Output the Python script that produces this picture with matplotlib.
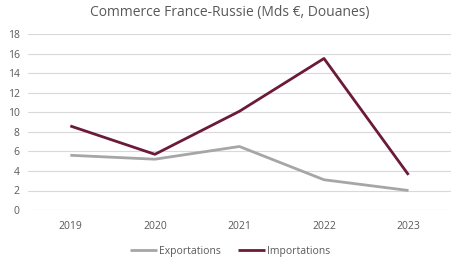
import matplotlib.pyplot as plt

years = ["2019", "2020", "2021", "2022", "2023"]
exportations = [5.6, 5.2, 6.5, 3.1, 2.0]
importations = [8.6, 5.7, 10.1, 15.5, 3.6]
yticks = [0, 2, 4, 6, 8, 10, 12, 14, 16, 18]

plt.rcParams['font.family'] = ['Open Sans', 'DejaVu Sans']
txt = '#595959'

fig = plt.figure(figsize=(4.6, 2.7), dpi=100)
ax = fig.add_axes([0.061, 0.222, 0.919, 0.652])

x = range(len(years))
ax.plot(x, exportations, color='#A6A6A6', lw=2.0, label='Exportations', solid_capstyle='butt')
ax.plot(x, importations, color='#6B1A3A', lw=2.0, label='Importations', solid_capstyle='butt')

ax.set_xlim(-0.5, len(years) - 0.5)
ax.set_ylim(0, 18)
ax.set_yticks(yticks)
ax.set_xticks(list(x))
ax.set_xticklabels(years)
ax.grid(axis='y', color='#D9D9D9', lw=0.8)
ax.set_axisbelow(True)
for s in ax.spines.values():
    s.set_visible(False)
ax.tick_params(length=0, labelsize=7.5, colors=txt)
ax.tick_params(axis='x', pad=8)
ax.tick_params(axis='y', pad=6)

fig.text(0.5, 0.955, 'Commerce France-Russie (Mds €, Douanes)', ha='center', va='center',
         fontsize=10, color=txt)
fig.legend(loc='center', bbox_to_anchor=(0.5, 0.068), ncol=2, frameon=False,
           fontsize=7.5, labelcolor=txt, handlelength=2.6,
           handletextpad=0.2, columnspacing=1.6)

fig.savefig('out.png', dpi=100)
